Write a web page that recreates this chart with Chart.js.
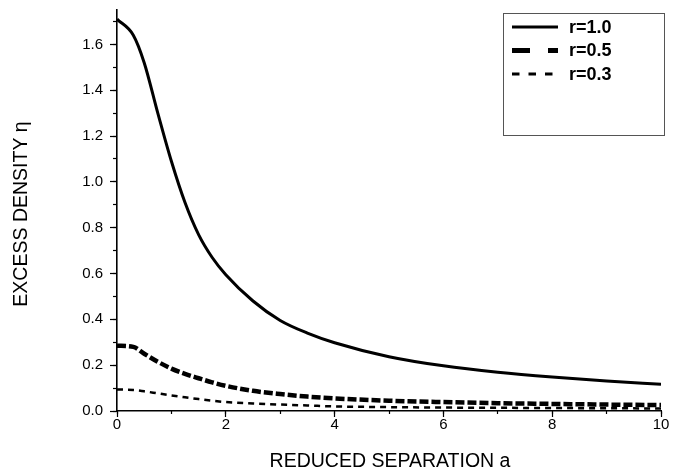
<!DOCTYPE html>
<html>
<head>
<meta charset="utf-8">
<script src="https://cdn.jsdelivr.net/npm/chart.js@4/dist/chart.umd.min.js"></script>
<style>
  html, body { margin: 0; padding: 0; background: #fff; }
  #wrap { width: 682px; height: 473px; }
</style>
</head>
<body>
<div id="wrap"><canvas id="chart" width="682" height="473"></canvas></div>
<script>
// ---------- Data ----------
const sepA    = [0, 0.3, 0.5, 0.75, 1.0, 1.25, 1.5, 1.75, 2, 2.5, 3, 3.5, 4, 5, 6, 7, 8, 9, 10];
const etaR10  = [1.71, 1.64, 1.52, 1.30, 1.09, 0.91, 0.77, 0.67, 0.595, 0.48, 0.395, 0.34, 0.298, 0.237, 0.197, 0.169, 0.148, 0.131, 0.117];
const etaR05  = [0.285, 0.28, 0.25, 0.215, 0.185, 0.162, 0.143, 0.125, 0.11, 0.088, 0.074, 0.063, 0.055, 0.045, 0.039, 0.034, 0.031, 0.028, 0.026];
const etaR03  = [0.094, 0.092, 0.086, 0.077, 0.068, 0.06, 0.052, 0.045, 0.039, 0.033, 0.028, 0.024, 0.02, 0.017, 0.015, 0.014, 0.013, 0.012, 0.011];

const seriesLabels = ["r=1.0", "r=0.5", "r=0.3"];
const yMajorTicks = [0, 0.2, 0.4, 0.6, 0.8, 1.0, 1.2, 1.4, 1.6];
const yMinorTicks = [0, 0.1, 0.2, 0.3, 0.4, 0.5, 0.6, 0.7, 0.8, 0.9, 1.0, 1.1, 1.2, 1.3, 1.4, 1.5, 1.6, 1.7];
const xMajorTicks = [0, 2, 4, 6, 8, 10];
const xMinorTicks = [0, 1, 2, 3, 4, 5, 6, 7, 8, 9, 10];
const xTitle = "REDUCED SEPARATION a";
const yTitle = "EXCESS DENSITY \u03B7";

const pts = (ys) => ys.map((y, i) => ({ x: sepA[i], y }));
const asTicks = (arr) => arr.map((v) => ({ value: v }));

// ---------- Styles ----------
const FONT = "'Liberation Sans', Arial, Helvetica, sans-serif";
const lineStyles = [
  { width: 3,   dash: [],     legendDash: [],        legendWidth: 3 },
  { width: 4.5, dash: [9, 3], legendDash: [18, 18],  legendWidth: 5 },
  { width: 2.5, dash: [6, 5], legendDash: [7.5, 9],  legendWidth: 3 }
];

// ---------- Plugins ----------
const axisTitlePlugin = {
  id: "axisTitles",
  afterDraw(chart) {
    const { ctx } = chart;
    ctx.save();
    ctx.fillStyle = "#000";
    ctx.font = `19.5px ${FONT}`;
    ctx.textAlign = "center";
    ctx.textBaseline = "middle";
    ctx.fillText(xTitle, 390, 462);
    ctx.translate(22, 214);
    ctx.rotate(-Math.PI / 2);
    ctx.fillText(yTitle, 0, 0);
    ctx.restore();
  }
};

const boxLegendPlugin = {
  id: "boxLegend",
  afterDraw(chart) {
    const { ctx } = chart;
    const bx = 503, by = 13, bw = 161, bh = 122;
    ctx.save();
    ctx.fillStyle = "#fff";
    ctx.fillRect(bx, by, bw, bh);
    ctx.strokeStyle = "#555";
    ctx.lineWidth = 1;
    ctx.strokeRect(bx + 0.5, by + 0.5, bw, bh);
    seriesLabels.forEach((lab, i) => {
      const st = lineStyles[i];
      const y = 27 + i * 23.5;
      ctx.beginPath();
      ctx.setLineDash(st.legendDash);
      ctx.lineWidth = st.legendWidth;
      ctx.strokeStyle = "#000";
      ctx.moveTo(512, y);
      ctx.lineTo(558, y);
      ctx.stroke();
      ctx.setLineDash([]);
      ctx.fillStyle = "#000";
      ctx.font = `bold 18px ${FONT}`;
      ctx.textBaseline = "middle";
      ctx.fillText(lab, 569, y + 1);
    });
    ctx.restore();
  }
};

// ---------- Chart ----------
const tickFont = { family: FONT, size: 15 };
const noEdgePad = (s) => { s.paddingTop = 0; s.paddingBottom = 0; s.paddingLeft = 0; s.paddingRight = 0; };
const ctx = document.getElementById("chart").getContext("2d");

new Chart(ctx, {
  type: "line",
  data: {
    datasets: [etaR10, etaR05, etaR03].map((ys, i) => ({
      label: seriesLabels[i],
      data: pts(ys),
      borderColor: "#000",
      borderWidth: lineStyles[i].width,
      borderDash: lineStyles[i].dash,
      borderCapStyle: "butt",
      cubicInterpolationMode: "monotone",
      pointRadius: 0,
      fill: false
    }))
  },
  options: {
    responsive: false,
    animation: false,
    layout: { padding: { top: 10, right: 21, left: 0, bottom: 0 } },
    plugins: { legend: { display: false }, tooltip: { enabled: false } },
    scales: {
      x: {
        type: "linear", position: "bottom", min: 0, max: 10, weight: 1,
        afterFit: (s) => { s.height = 62; noEdgePad(s); },
        afterBuildTicks: (s) => { s.ticks = asTicks(xMajorTicks); },
        ticks: { font: tickFont, color: "#000", padding: -1, maxRotation: 0 },
        grid: { drawOnChartArea: false, tickLength: 6, color: "#000", tickWidth: 1.2 },
        border: { color: "#000", width: 1.6 }
      },
      xMinor: {
        type: "linear", position: "bottom", min: 0, max: 10, weight: 0,
        afterFit: (s) => { s.height = 0; noEdgePad(s); },
        afterBuildTicks: (s) => { s.ticks = asTicks(xMinorTicks); },
        ticks: { display: false },
        grid: { drawOnChartArea: false, tickLength: 3, color: "#000", tickWidth: 1.2 },
        border: { display: false }
      },
      y: {
        type: "linear", position: "left", min: 0, max: 1.75, weight: 1,
        afterFit: (s) => { s.width = 117; noEdgePad(s); },
        afterBuildTicks: (s) => { s.ticks = asTicks(yMajorTicks); },
        ticks: { font: tickFont, color: "#000", padding: 7, callback: (v) => Number(v).toFixed(1) },
        grid: { drawOnChartArea: false, tickLength: 7, color: "#000", tickWidth: 1.2 },
        border: { color: "#000", width: 1.6 }
      },
      yMinor: {
        type: "linear", position: "left", min: 0, max: 1.75, weight: 0,
        afterFit: (s) => { s.width = 0; noEdgePad(s); },
        afterBuildTicks: (s) => { s.ticks = asTicks(yMinorTicks); },
        ticks: { display: false },
        grid: { drawOnChartArea: false, tickLength: 4, color: "#000", tickWidth: 1.2 },
        border: { display: false }
      }
    }
  },
  plugins: [axisTitlePlugin, boxLegendPlugin]
});
</script>
</body>
</html>
